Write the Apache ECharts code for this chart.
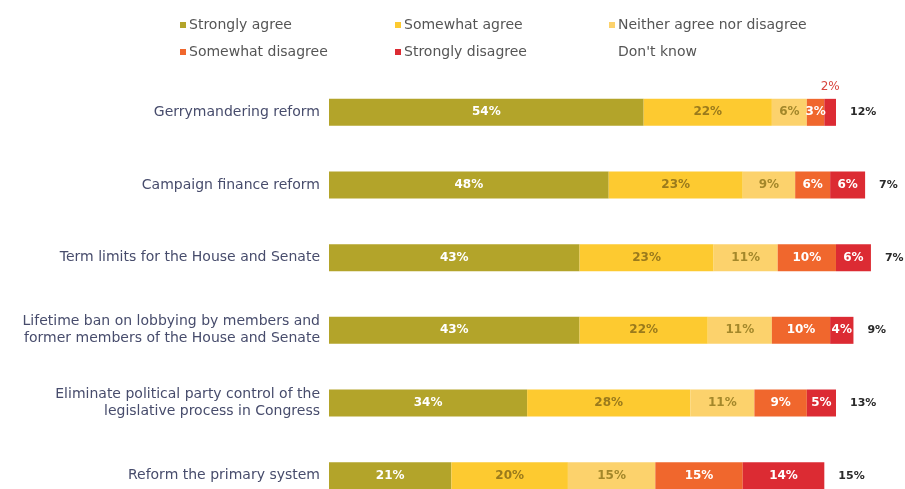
<!DOCTYPE html>
<html>
<head>
<meta charset="utf-8">
<script src="https://cdn.jsdelivr.net/npm/echarts@6/dist/echarts.min.js"></script>
<style>
  html, body { margin: 0; padding: 0; background: #fff; }
  #chart { width: 905px; height: 489px; }
</style>
</head>
<body>
<div id="chart"></div>
<script>
// 问卷结果 (%)
var categories = [
  'Gerrymandering reform',
  'Campaign finance reform',
  'Term limits for the House and Senate',
  'Lifetime ban on lobbying by members and\nformer members of the House and Senate',
  'Eliminate political party control of the\nlegislative process in Congress',
  'Reform the primary system'
]
var seriesNames = ['Strongly agree', 'Somewhat agree', 'Neither agree nor disagree',
  'Somewhat disagree', 'Strongly disagree', "Don't know"]
var stronglyAgree = [54, 48, 43, 43, 34, 21]
var somewhatAgree = [22, 23, 23, 22, 28, 20]
var neither = [6, 9, 11, 11, 11, 15]
var somewhatDisagree = [3, 6, 10, 10, 9, 15]
var stronglyDisagree = [2, 6, 6, 4, 5, 14]
var dontKnow = [12, 7, 7, 9, 13, 15]

var colors = ['#b3a42a', '#fdca30', '#fcd26c', '#f0672d', '#dc2b33', 'rgba(0,0,0,0)']
var labelColors = ['#ffffff', '#9a7a1c', '#a3872a', '#ffffff', '#ffffff', '#2a2a2a']
var values = [stronglyAgree, somewhatAgree, neither, somewhatDisagree, stronglyDisagree, dontKnow]

var legendPos = [[175, 13], [390, 13], [604, 13], [175, 40], [390, 40], [604, 40]]

var myEcharts = echarts.init(document.getElementById('chart'))

var series = seriesNames.map(function (name, i) {
  var data = values[i].slice()
  if (i === 4) {
    // 2% 标在柱子上方
    data[0] = { value: data[0], label: { position: 'top', distance: 6, color: '#d8453d', fontWeight: 'normal' } }
  }
  return {
    name: name,
    type: 'bar',
    stack: 'total',
    barWidth: 27,
    clip: false,
    itemStyle: { color: colors[i] },
    label: {
      show: true,
      position: i === 5 ? 'insideLeft' : 'inside',
      offset: i === 5 ? [9, 0] : [0, 0],
      formatter: '{c}%',
      color: labelColors[i],
      fontSize: i === 5 ? 11 : 12,
      fontWeight: 'bold',
      fontFamily: 'DejaVu Sans'
    },
    emphasis: { disabled: true },
    data: data
  }
})

var option = {
  animation: false,
  legend: seriesNames.map(function (name, i) {
    return {
      left: legendPos[i][0],
      top: legendPos[i][1],
      data: [name],
      icon: 'rect',
      itemWidth: 6,
      itemHeight: 6,
      itemGap: 0,
      selectedMode: false,
      textStyle: { color: '#555555', fontSize: 14, fontFamily: 'DejaVu Sans', padding: [0, 0, 0, -2] }
    }
  }),
  grid: { left: 329, top: 76, width: 641, height: 436, outerBoundsMode: 'none' },
  xAxis: {
    type: 'value',
    min: 0,
    max: 110,
    show: false
  },
  yAxis: {
    type: 'category',
    inverse: true,
    data: categories,
    axisLine: { show: false },
    axisTick: { show: false },
    axisLabel: {
      margin: 9,
      color: '#474c6c',
      fontSize: 14,
      lineHeight: 17,
      fontFamily: 'DejaVu Sans'
    }
  },
  series: series
}
myEcharts.setOption(option)
</script>
</body>
</html>
